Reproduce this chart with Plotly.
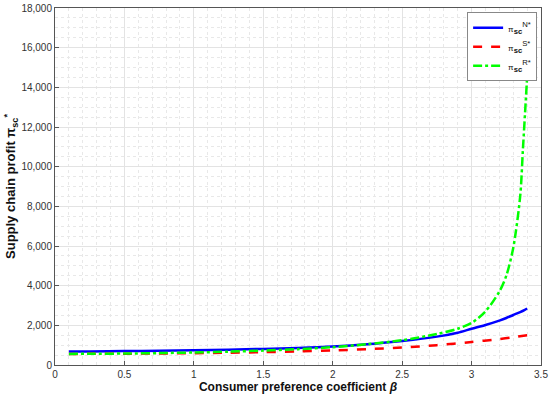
import plotly.graph_objects as go

beta_N = [0.1, 0.25, 0.5, 0.75, 1.0, 1.25, 1.5, 1.75, 2.0, 2.25, 2.5, 2.75, 2.9, 3.0, 3.1, 3.2, 3.25, 3.3, 3.35, 3.38, 3.4]
profit_N = [680, 685, 700, 718, 742, 772, 812, 862, 935, 1050, 1210, 1430, 1630, 1830, 2020, 2240, 2370, 2520, 2670, 2770, 2850]

beta_S = [0.1, 0.25, 0.5, 0.75, 1.0, 1.25, 1.5, 1.75, 2.0, 2.25, 2.5, 2.75, 3.0, 3.2, 3.3, 3.4]
profit_S = [560, 562, 570, 582, 598, 620, 648, 685, 735, 800, 880, 1000, 1160, 1310, 1400, 1505]

beta_R = [0.1, 0.25, 0.5, 0.75, 1.0, 1.25, 1.5, 1.75, 2.0, 2.25, 2.5, 2.75, 2.9, 3.0, 3.1, 3.2, 3.25, 3.3, 3.35, 3.37, 3.39, 3.4]
profit_R = [560, 565, 578, 600, 630, 672, 728, 800, 900, 1050, 1250, 1560, 1830, 2120, 2700, 3700, 4500, 5900, 8500, 10900, 13300, 14500]

x_ticks = [0, 0.5, 1, 1.5, 2, 2.5, 3, 3.5]
y_ticks = [0, 2000, 4000, 6000, 8000, 10000, 12000, 14000, 16000, 18000]

fig = go.Figure()
fig.add_trace(go.Scatter(x=beta_N, y=profit_N, mode="lines", line=dict(color="#0000FF", width=2.5, shape="spline", smoothing=0.8),
                         name="<span style='font-size:8px'>π</span><sub><b>sc</b></sub><sup>N*</sup>"))
fig.add_trace(go.Scatter(x=beta_S, y=profit_S, mode="lines", line=dict(color="#FF0000", width=2.5, dash="dash", shape="spline", smoothing=0.8),
                         name="<span style='font-size:8px'>π</span><sub><b>sc</b></sub><sup>S*</sup>"))
fig.add_trace(go.Scatter(x=beta_R, y=profit_R, mode="lines", line=dict(color="#00FF00", width=2.5, dash="dashdot", shape="spline", smoothing=0.8),
                         name="<span style='font-size:8px'>π</span><sub><b>sc</b></sub><sup>R*</sup>"))

axis_common = dict(showline=True, linecolor="#555", linewidth=1, mirror=True,
                   gridcolor="#e3e3e3", gridwidth=1, zeroline=False, automargin=False,
                   ticks="inside", ticklen=4, tickcolor="#555",
                   tickfont=dict(family="Liberation Sans, Arial", size=10, color="#333"))

fig.update_xaxes(range=[0, 3.5], tickvals=x_ticks, ticktext=[str(v) for v in x_ticks],
                 minor=dict(dtick=0.1, showgrid=True, gridcolor="#e8e8e8", griddash="dot"),
                 title=dict(text="<b>Consumer preference coefficient <i>β</i></b>",
                            font=dict(family="Liberation Sans, Arial", size=12, color="#111"), standoff=0),
                 **axis_common)
fig.update_yaxes(range=[0, 18000], tickvals=y_ticks, ticktext=[f"{v:,}" for v in y_ticks],
                 minor=dict(dtick=500, showgrid=True, gridcolor="#e8e8e8", griddash="dot"),
                 title=dict(text="<b>Supply chain profit π<sub>sc</sub><sup>*</sup></b>",
                            font=dict(family="Liberation Sans, Arial", size=13, color="#111"), standoff=2),
                 **axis_common)

fig.update_layout(
    width=550, height=396,
    margin=dict(l=55, r=9, t=8, b=31, autoexpand=False),
    paper_bgcolor="white", plot_bgcolor="white",
    showlegend=True,
    legend=dict(x=0.992, y=0.988, xanchor="right", yanchor="top",
                bgcolor="white", bordercolor="#888", borderwidth=1,
                font=dict(family="Liberation Sans, Arial", size=11, color="#111"),
                tracegroupgap=0, itemwidth=30),
)

fig.write_html("out.html", config={"displayModeBar": False},
               post_script="document.body.style.margin='0';document.body.style.padding='0';")
